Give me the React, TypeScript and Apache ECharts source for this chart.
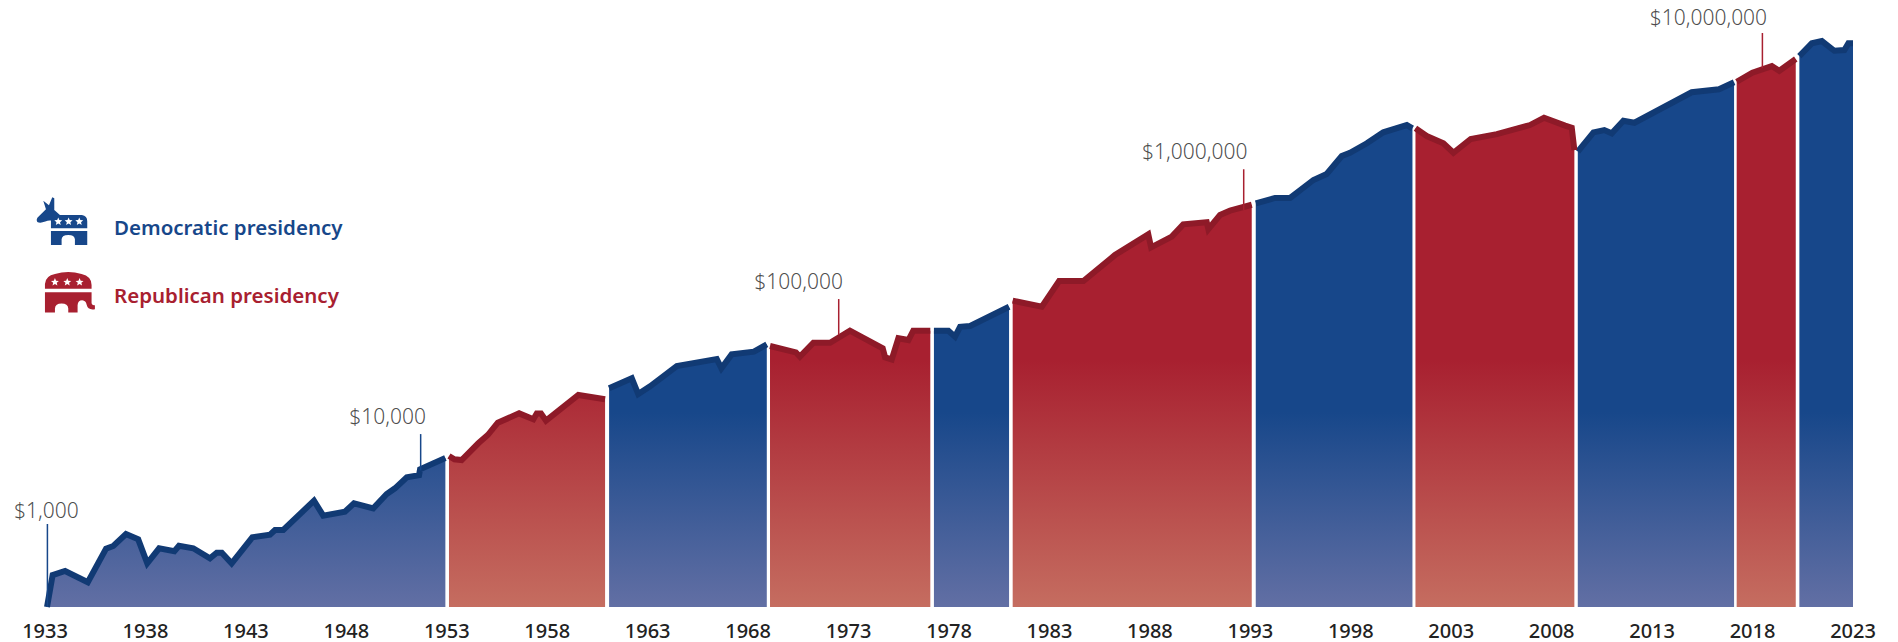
import React, { useEffect, useRef } from "react";
import * as echarts from "echarts";

// Each pair is [year, log10 of the value of the investment in dollars]
const dem1933to1953: [number, number][] = [
  [1933.1, 3.0], [1933.38, 3.236], [1934.0, 3.266], [1935.13, 3.183], [1936.04, 3.431], [1936.4, 3.451],
  [1937.03, 3.539], [1937.64, 3.5], [1938.09, 3.323], [1938.68, 3.434], [1939.44, 3.412], [1939.67, 3.453],
  [1940.38, 3.434], [1941.21, 3.36], [1941.55, 3.401], [1941.8, 3.401], [1942.29, 3.323], [1943.32, 3.515],
  [1944.2, 3.534], [1944.45, 3.569], [1944.86, 3.569], [1946.39, 3.786], [1946.85, 3.675], [1947.93, 3.704],
  [1948.38, 3.766], [1949.34, 3.729], [1950.01, 3.835], [1950.42, 3.877], [1951.01, 3.958], [1951.62, 3.975],
  [1951.67, 4.018], [1952.93, 4.101],
];
const rep1953to1961: [number, number][] = [
  [1953.11, 4.116], [1953.38, 4.092], [1953.74, 4.086], [1954.57, 4.21], [1955.04, 4.271], [1955.54, 4.362],
  [1956.6, 4.431], [1957.31, 4.387], [1957.48, 4.431], [1957.69, 4.431], [1957.94, 4.377], [1959.55, 4.567],
  [1960.88, 4.535],
];
const dem1961to1969: [number, number][] = [
  [1961.08, 4.616], [1962.21, 4.69], [1962.53, 4.574], [1963.12, 4.631], [1964.45, 4.781], [1966.44, 4.833],
  [1966.67, 4.764], [1967.18, 4.867], [1968.29, 4.887], [1968.93, 4.941],
];
const rep1969to1977: [number, number][] = [
  [1969.09, 4.929], [1970.38, 4.882], [1970.58, 4.85], [1971.25, 4.953], [1972.08, 4.953], [1973.07, 5.042],
  [1974.7, 4.912], [1974.82, 4.845], [1975.15, 4.83], [1975.48, 4.986], [1975.98, 4.973], [1976.22, 5.042],
  [1977.07, 5.042],
];
const dem1977to1981: [number, number][] = [
  [1977.25, 5.042], [1977.97, 5.042], [1978.3, 4.998], [1978.55, 5.071], [1979.05, 5.077], [1980.99, 5.219],
];
const rep1981to1993: [number, number][] = [
  [1981.17, 5.264], [1982.62, 5.219], [1983.48, 5.409], [1984.69, 5.409], [1986.26, 5.601], [1987.92, 5.754],
  [1988.06, 5.658], [1989.09, 5.737], [1989.66, 5.828], [1990.83, 5.843], [1990.91, 5.793], [1991.49, 5.897],
  [1991.99, 5.929], [1993.07, 5.973],
];
const dem1993to2001: [number, number][] = [
  [1993.27, 5.983], [1994.23, 6.023], [1994.98, 6.023], [1996.14, 6.156], [1996.8, 6.2], [1997.55, 6.333],
  [1997.96, 6.357], [1998.8, 6.427], [1999.62, 6.508], [2000.79, 6.562], [2001.07, 6.538],
];
const rep2001to2009: [number, number][] = [
  [2001.22, 6.538], [2001.78, 6.481], [2002.61, 6.427], [2003.11, 6.357], [2003.97, 6.459], [2005.27, 6.495],
  [2006.92, 6.562], [2007.62, 6.616], [2008.67, 6.558], [2009.0, 6.542], [2009.13, 6.377],
];
const dem2009to2017: [number, number][] = [
  [2009.3, 6.365], [2010.08, 6.508], [2010.62, 6.525], [2010.99, 6.501], [2011.57, 6.594], [2012.12, 6.579],
  [2014.97, 6.804], [2016.33, 6.826], [2017.08, 6.878],
];
const rep2017to2021: [number, number][] = [
  [2017.21, 6.882], [2017.99, 6.949], [2018.96, 6.998], [2019.33, 6.963], [2020.15, 7.05],
];
const dem2021to2023: [number, number][] = [
  [2020.33, 7.072], [2020.95, 7.166], [2021.45, 7.183], [2022.07, 7.111], [2022.57, 7.116], [2022.77, 7.166],
  [2023.0, 7.166],
];

const demTerms = [dem1933to1953, dem1961to1969, dem1977to1981, dem1993to2001, dem2009to2017, dem2021to2023];
const repTerms = [rep1953to1961, rep1969to1977, rep1981to1993, rep2001to2009, rep2017to2021];

// Milestones: label, year, top of the leader, bottom of the leader, party
const milestoneLabels = ["$1,000", "$10,000", "$100,000", "$1,000,000", "$10,000,000"];
const milestoneYears = [1933.12, 1951.7, 1972.51, 1992.67, 2018.49];
const milestoneTops = [3.613, 4.278, 5.276, 6.235, 7.242];
const milestoneBottoms = [3.0, 4.01, 5.01, 5.934, 6.983];
const milestoneParty = ["dem", "dem", "rep", "rep", "rep"];
const milestoneLabelShift = [-1, -33, -40, -49, -54];
const milestoneLabelLift = [-1, -5, -5, -5, -3];

const firstYear = 1933;
const lastYear = 2023;
const tickStep = 5;

const BLUE = "#17478a";
const BLUE_LINE = "#113a74";
const BLUE_LOW = "#626fa4";
const RED = "#a82030";
const RED_LINE = "#8e1a28";
const RED_LOW = "#c56d60";

const DONKEY =
  "M130,122 L147,136 L157,112 L163,115 L163,150 L180,165 L246,165 Q262,167 262,184 L262,205 L153,205 L153,182 " +
  "Q146,180 136,185 Q120,191 112,186 Q107,178 116,170 L138,148 Z " +
  "M153,213 L262,213 L262,255 L225,255 L225,238 Q224,225 205,225 Q186,225 185,238 L185,255 L153,255 Z";
const ELEPHANT =
  "M135,387 L135,372 Q137,347 165,342 Q205,331 245,342 Q275,349 275,375 L275,387 Z " +
  "M135,397 L275,397 L275,430 Q277,438 285,436 L285,448 Q264,452 260,434 Q258,422 247,421 Q234,421 233,436 " +
  "L233,458 L205,458 L205,446 Q204,431 185,431 Q166,431 165,446 L165,458 L135,458 Z";

echarts.graphic.registerShape("donkeyIcon", (echarts.graphic as any).extendPath(DONKEY, {}));
echarts.graphic.registerShape("elephantIcon", (echarts.graphic as any).extendPath(ELEPHANT, {}));

function star(cx: number, cy: number, r: number) {
  const points: number[][] = [];
  for (let i = 0; i < 10; i++) {
    const a = -Math.PI / 2 + (i * Math.PI) / 5;
    const rad = i % 2 === 0 ? r : r * 0.45;
    points.push([cx + rad * Math.cos(a), cy + rad * Math.sin(a)]);
  }
  return { type: "polygon", shape: { points }, style: { fill: "#ffffff" } };
}

function areaSeries(data: [number, number][], name: string, line: string, top: string, low: string, fadeFrom: number) {
  return {
    type: "line",
    name,
    data,
    symbol: "none",
    smooth: false,
    silent: true,
    lineStyle: { color: line, width: 6, cap: "butt", join: "miter" },
    areaStyle: {
      opacity: 1,
      color: new echarts.graphic.LinearGradient(
        0, fadeFrom, 0, 607,
        [{ offset: 0, color: top }, { offset: 1, color: low }],
        true,
      ),
    },
    z: 2,
  };
}

export default function App() {
  const ref = useRef<HTMLDivElement>(null);
  useEffect(() => {
    const chart = echarts.init(ref.current!, undefined, { renderer: "svg" });
    const series: any[] = [
      ...demTerms.map((d) => areaSeries(d, "Democratic presidency", BLUE_LINE, BLUE, BLUE_LOW, 412)),
      ...repTerms.map((d) => areaSeries(d, "Republican presidency", RED_LINE, RED, RED_LOW, 360)),
      ...milestoneLabels.map((label, i) => ({
        type: "line",
        name: label,
        data: [[milestoneYears[i], milestoneTops[i]], [milestoneYears[i], milestoneBottoms[i]]],
        symbol: "none",
        silent: true,
        lineStyle: { color: milestoneParty[i] === "dem" ? BLUE : RED, width: 1.5 },
        z: 3,
      })),
      {
        type: "scatter",
        name: "Milestones",
        symbolSize: 1,
        silent: true,
        itemStyle: { color: "transparent" },
        z: 4,
        data: milestoneLabels.map((label, i) => ({
          value: [milestoneYears[i], milestoneTops[i]],
          label: {
            show: true,
            formatter: label,
            position: "top",
            distance: 2,
            offset: [milestoneLabelShift[i], milestoneLabelLift[i]],
            fontFamily: "Noto Sans",
            fontWeight: 300,
            fontSize: 21,
            color: "#1c1c1c",
          },
        })),
      },
    ];
    chart.setOption({
      animation: false,
      backgroundColor: "#ffffff",
      grid: { left: 45, right: 45, top: 31, bottom: 35, containLabel: false },
      xAxis: {
        type: "value",
        min: firstYear,
        max: lastYear,
        interval: tickStep,
        axisLine: { show: false },
        axisTick: { show: false },
        splitLine: { show: false },
        axisLabel: {
          formatter: (v: number) => String(v),
          margin: 13,
          fontFamily: "Noto Sans",
          fontWeight: 500,
          fontSize: 20,
          lineHeight: 20,
          color: "#222222",
        },
      },
      yAxis: { type: "value", min: 3, max: 7.257, show: false, splitLine: { show: false } },
      series,
      graphic: [
        {
          type: "group",
          x: 0,
          y: 160,
          scaleX: 1 / 3,
          scaleY: 1 / 3,
          silent: true,
          children: [
            { type: "donkeyIcon", style: { fill: BLUE } },
            star(175, 185, 12.5),
            star(206, 185, 12.5),
            star(238, 185, 12.5),
            { type: "elephantIcon", style: { fill: RED } },
            star(165, 367, 12.5),
            star(202, 367, 12.5),
            star(239, 367, 12.5),
          ],
        },
        {
          type: "text",
          x: 114,
          y: 227,
          silent: true,
          style: {
            text: "Democratic presidency",
            fill: BLUE,
            font: "600 20.5px 'Noto Sans'",
            verticalAlign: "middle",
          },
        },
        {
          type: "text",
          x: 114,
          y: 295,
          silent: true,
          style: {
            text: "Republican presidency",
            fill: RED,
            font: "600 20.5px 'Noto Sans'",
            verticalAlign: "middle",
          },
        },
      ],
    });
    return () => chart.dispose();
  }, []);
  return <div ref={ref} style={{ position: "absolute", left: 0, top: 0, width: 1898, height: 642 }} />;
}
